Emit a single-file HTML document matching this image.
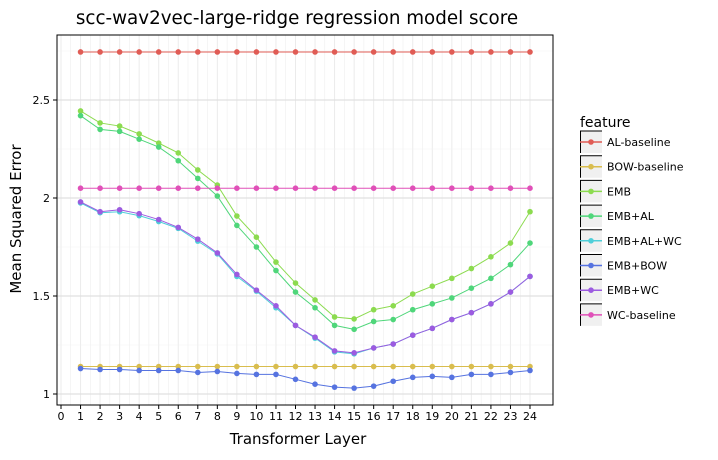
<!DOCTYPE html>
<html><head><meta charset="utf-8"><style>
body{margin:0;background:#fff;font-family:"DejaVu Sans","Liberation Sans",sans-serif}
svg text{font-family:"DejaVu Sans","Liberation Sans",sans-serif}
</style></head><body>
<svg width="718" height="456" id="c" xmlns="http://www.w3.org/2000/svg"></svg>
<script>
const layers=[1,2,3,4,5,6,7,8,9,10,11,12,13,14,15,16,17,18,19,20,21,22,23,24];
const featureNames=["AL-baseline","BOW-baseline","EMB","EMB+AL","EMB+AL+WC","EMB+BOW","EMB+WC","WC-baseline"];
const colors=["#e05c55","#d9bd4e","#8cdb4f","#4fd67a","#4fcfd9","#5673e0","#9c5be0","#e050b8"];
const alBaseline=Array(24).fill(2.745);
const bowBaseline=Array(24).fill(1.14);
const wcBaseline=Array(24).fill(2.05);
const emb=[2.444,2.383,2.367,2.327,2.28,2.23,2.143,2.066,1.908,1.80,1.673,1.566,1.48,1.393,1.383,1.43,1.45,1.51,1.55,1.59,1.64,1.70,1.77,1.93];
const embAl=[2.42,2.35,2.34,2.30,2.26,2.19,2.10,2.01,1.86,1.75,1.63,1.52,1.44,1.35,1.33,1.37,1.38,1.43,1.46,1.49,1.54,1.59,1.66,1.77];
const embAlWc=[1.975,1.925,1.93,1.91,1.88,1.845,1.78,1.715,1.60,1.525,1.44,1.35,1.285,1.215,1.205,1.235,1.255,1.30,1.335,1.38,1.415,1.46,1.52,1.60];
const embBow=[1.13,1.125,1.125,1.12,1.12,1.12,1.11,1.115,1.105,1.10,1.10,1.075,1.05,1.035,1.03,1.04,1.065,1.085,1.09,1.085,1.10,1.10,1.11,1.12];
const embWc=[1.98,1.93,1.94,1.92,1.89,1.85,1.79,1.72,1.61,1.53,1.45,1.35,1.29,1.22,1.21,1.235,1.255,1.30,1.335,1.38,1.415,1.46,1.52,1.60];
const seriesValues=[alBaseline,bowBaseline,emb,embAl,embAlWc,embBow,embWc,wcBaseline];
const xTicks=[0,1,2,3,4,5,6,7,8,9,10,11,12,13,14,15,16,17,18,19,20,21,22,23,24];
const yTicks=[1,1.5,2,2.5];
const yTickLabels=["1","1.5","2","2.5"];

const NS="http://www.w3.org/2000/svg";
const svg=document.getElementById('c');
const L=57,R=553,T=35,B=405;
const x=v=>61+v*(530-61)/24;
const y=v=>394-(v-1)*196;
function mk(t,a,p){const e=document.createElementNS(NS,t);for(const k in a)e.setAttribute(k,a[k]);(p||svg).appendChild(e);return e;}
const bg=mk('rect',{x:L,y:T,width:R-L,height:B-T,fill:'#fff'});


const grid=mk('g',{});


for(let v=0;v<=24;v+=0.5){mk('line',{x1:x(v),x2:x(v),y1:T,y2:B,stroke:'#ebebeb','stroke-width':v%1?0.5:1},grid);}
for(let v=0.75;v<=2.9;v+=0.25){if(y(v)<T||y(v)>B)continue;mk('line',{x1:L,x2:R,y1:y(v),y2:y(v),stroke:v%0.5?'#f2f2f2':'#e0e0e0','stroke-width':v%0.5?0.6:1.2},grid);}
seriesValues.forEach((vals,i)=>{
  const g=mk('g',{});
  
  
  mk('polyline',{points:vals.map((v,j)=>x(layers[j])+','+y(v)).join(' '),fill:'none',stroke:colors[i],'stroke-width':1},g);
  vals.forEach((v,j)=>{const c=mk('circle',{cx:x(layers[j]),cy:y(v),r:2.8,fill:colors[i]},g);
    
    });
});
const frame=mk('rect',{x:L,y:T,width:R-L,height:B-T,fill:'none',stroke:'#000','stroke-width':1});


xTicks.forEach(v=>{mk('line',{x1:x(v),x2:x(v),y1:B,y2:B+4,stroke:'#000'});
  const t=mk('text',{x:x(v),y:B+15,'font-size':11,'text-anchor':'middle'});t.textContent=v;
  
  });
yTicks.forEach((v,i)=>{mk('line',{x1:L-4,x2:L,y1:y(v),y2:y(v),stroke:'#000'});
  const t=mk('text',{x:L-7,y:y(v)+4,'font-size':11,'text-anchor':'end'});t.textContent=yTickLabels[i];
  
  });
let t=mk('text',{x:297,y:24,'font-size':18.3,'text-anchor':'middle'});t.textContent='scc-wav2vec-large-ridge regression model score';


t=mk('text',{x:298,y:444,'font-size':15,'text-anchor':'middle'});t.textContent='Transformer Layer';


t=mk('text',{x:21,y:219,'font-size':15,'text-anchor':'middle',transform:'rotate(-90 21 219)'});t.textContent='Mean Squared Error';


t=mk('text',{x:580,y:127,'font-size':14});t.textContent='feature';


featureNames.forEach((n,i)=>{
  const g=mk('g',{});
  
  
  const cy=142+i*24.7;
  mk('rect',{x:580,y:cy-11,width:22,height:22,fill:'#f0f0f0'},g);
  mk('path',{d:`M580.5 ${cy+11} V${cy-11} H602`,fill:'none',stroke:'#000','stroke-width':1},g);
  mk('line',{x1:580,x2:602,y1:cy,y2:cy,stroke:colors[i],'stroke-width':1.5},g);
  mk('circle',{cx:591,cy:cy,r:2.8,fill:colors[i]},g);
  const tt=mk('text',{x:607,y:cy+4,'font-size':11},g);tt.textContent=n;
});
</script>
</body></html>
